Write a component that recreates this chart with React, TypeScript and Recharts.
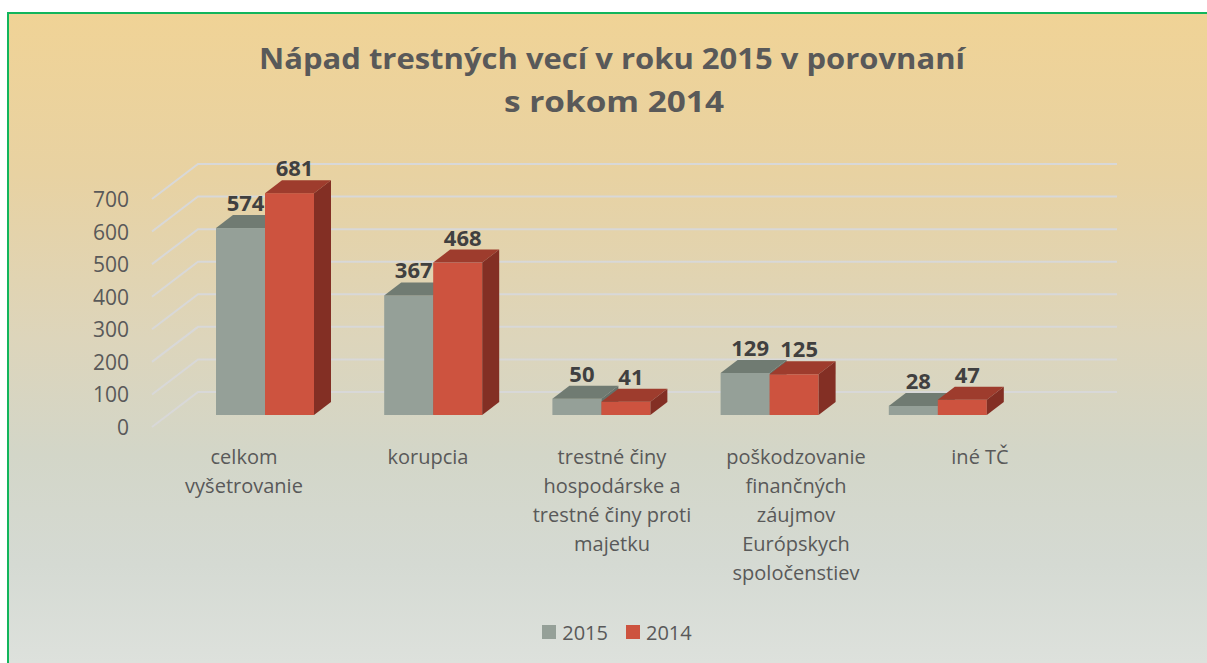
import React from "react";
import { BarChart, Bar, XAxis, YAxis, CartesianGrid, Legend, LabelList } from "recharts";

const categories = [
  "celkom\nvyšetrovanie",
  "korupcia",
  "trestné činy\nhospodárske a\ntrestné činy proti\nmajetku",
  "poškodzovanie\nfinančných\nzáujmov\nEurópskych\nspoločenstiev",
  "iné TČ",
];
const values2015 = [574, 367, 50, 129, 28];
const values2014 = [681, 468, 41, 125, 47];
const seriesNames = ["2015", "2014"];
const yTicks = [0, 100, 200, 300, 400, 500, 600, 700];
const titleLines = ["Nápad trestných vecí v roku 2015 v porovnaní", "s rokom 2014"];

const data = categories.map((name, i) => ({
  name,
  v2015: values2015[i],
  v2014: values2014[i],
}));

const W = 1200;
const H = 651;
const DX = 17;
const DY = 13;
const FONT = "'Open Sans', 'Noto Sans', sans-serif";

const make3D = (front: string, top: string, side: string) => (props: any) => {
  const { x, y, width: w, height: h } = props;
  if (w == null || h == null) return null;
  return (
    <g>
      <rect x={x} y={y} width={w} height={h} fill={front} />
      <polygon points={`${x},${y} ${x + DX},${y - DY} ${x + w + DX},${y - DY} ${x + w},${y}`} fill={top} />
      <polygon points={`${x + w},${y} ${x + w + DX},${y - DY} ${x + w + DX},${y + h - DY} ${x + w},${y + h}`} fill={side} />
    </g>
  );
};

const grayShape = make3D("#95A098", "#707B72", "#66716A");
const redShape = make3D("#CD533F", "#9E3C2D", "#832F24");

const GridLine = (props: any) => {
  const { x1, x2, y1, key } = props;
  return (
    <path
      key={key}
      d={`M${x1},${y1 + 12} L${x1 + 46},${y1 - 23} L${x2 + 45},${y1 - 23}`}
      stroke="#D8D8D8"
      strokeWidth={2}
      fill="none"
    />
  );
};

const YTick = (props: any) => {
  const { x, y, payload } = props;
  return (
    <text x={x} y={y + 12} textAnchor="end" dominantBaseline="central" fontFamily={FONT} fontSize={21} fill="#595959">
      {payload.value}
    </text>
  );
};

const XTick = (props: any) => {
  const { x, y, payload } = props;
  const lines = String(payload.value).split("\n");
  return (
    <text x={x} y={y} textAnchor="middle" fontFamily={FONT} fontSize={20} fill="#595959">
      {lines.map((l, i) => (
        <tspan key={i} x={x} y={y + 11 + i * 29} dominantBaseline="central">
          {l}
        </tspan>
      ))}
    </text>
  );
};

const ValueLabel = (props: any) => {
  const { x, y, width, value } = props;
  return (
    <text
      x={x + width / 2 + 5}
      y={y - 26}
      textAnchor="middle"
      dominantBaseline="central"
      fontFamily={FONT}
      fontWeight={700}
      fontSize={22}
      fill="#404040"
    >
      {value}
    </text>
  );
};

const LegendContent = (props: any) => {
  const items = [...(props.payload || [])].sort(
    (a: any, b: any) => seriesNames.indexOf(a.value) - seriesNames.indexOf(b.value)
  );
  return (
    <div style={{ display: "flex", justifyContent: "center", alignItems: "center", height: 30, paddingLeft: 20 }}>
      {items.map((it: any, i: number) => (
        <div key={i} style={{ display: "flex", alignItems: "center", marginRight: i === 0 ? 18 : 0 }}>
          <div style={{ width: 14, height: 14, background: it.color, marginRight: 6 }} />
          <span style={{ fontFamily: FONT, fontSize: 20, color: "#595959" }}>{it.value}</span>
        </div>
      ))}
    </div>
  );
};

export default function App() {
  return (
    <div
      style={{
        position: "absolute",
        left: 7,
        top: 12,
        width: W,
        height: H,
        background:
          "linear-gradient(to bottom, #F0D396 0%, #E8D2A2 25%, #DDD5BB 50%, #D3D6C8 68%, #D5DAD3 85%, #DDE1DC 100%)",
        boxShadow: "inset 2px 2px 0 #12B55C",
      }}
    >
      <svg width={W} height={130} style={{ position: "absolute", left: 0, top: 0 }}>
        <text
          x={605}
          y={45}
          textAnchor="middle"
          dominantBaseline="central"
          fontFamily={FONT}
          fontWeight={700}
          fontSize={29}
          fill="#595959"
          textLength={706}
          lengthAdjust="spacingAndGlyphs"
        >
          {titleLines[0]}
        </text>
        <text
          x={607}
          y={88}
          textAnchor="middle"
          dominantBaseline="central"
          fontFamily={FONT}
          fontWeight={700}
          fontSize={29}
          fill="#595959"
          textLength={220}
          lengthAdjust="spacingAndGlyphs"
        >
          {titleLines[1]}
        </text>
      </svg>
      <BarChart
        width={W}
        height={H}
        data={data}
        margin={{ top: 175, right: 135, bottom: 16, left: 0 }}
        barGap={0}
        style={{ position: "absolute", left: 0, top: 0 }}
      >
        <CartesianGrid horizontal={GridLine} vertical={false} />
        <XAxis xAxisId="bars" dataKey="name" hide padding={{ left: 29, right: 50 }} />
        <XAxis
          xAxisId="labels"
          dataKey="name"
          height={202}
          axisLine={false}
          tickLine={false}
          tickSize={0}
          tickMargin={0}
          interval={0}
          tick={<XTick />}
        />
        <YAxis
          domain={[0, 700]}
          ticks={yTicks}
          width={145}
          axisLine={false}
          tickLine={false}
          tickSize={0}
          tickMargin={23}
          tick={<YTick />}
        />
        <Legend verticalAlign="bottom" wrapperStyle={{ left: 0, width: W, bottom: 16 }} content={<LegendContent />} />
        <Bar xAxisId="bars" dataKey="v2015" name={seriesNames[0]} fill="#95A098" barSize={49} shape={grayShape} isAnimationActive={false}>
          <LabelList dataKey="v2015" content={<ValueLabel />} />
        </Bar>
        <Bar xAxisId="bars" dataKey="v2014" name={seriesNames[1]} fill="#CD533F" barSize={49} shape={redShape} isAnimationActive={false}>
          <LabelList dataKey="v2014" content={<ValueLabel />} />
        </Bar>
      </BarChart>
    </div>
  );
}
